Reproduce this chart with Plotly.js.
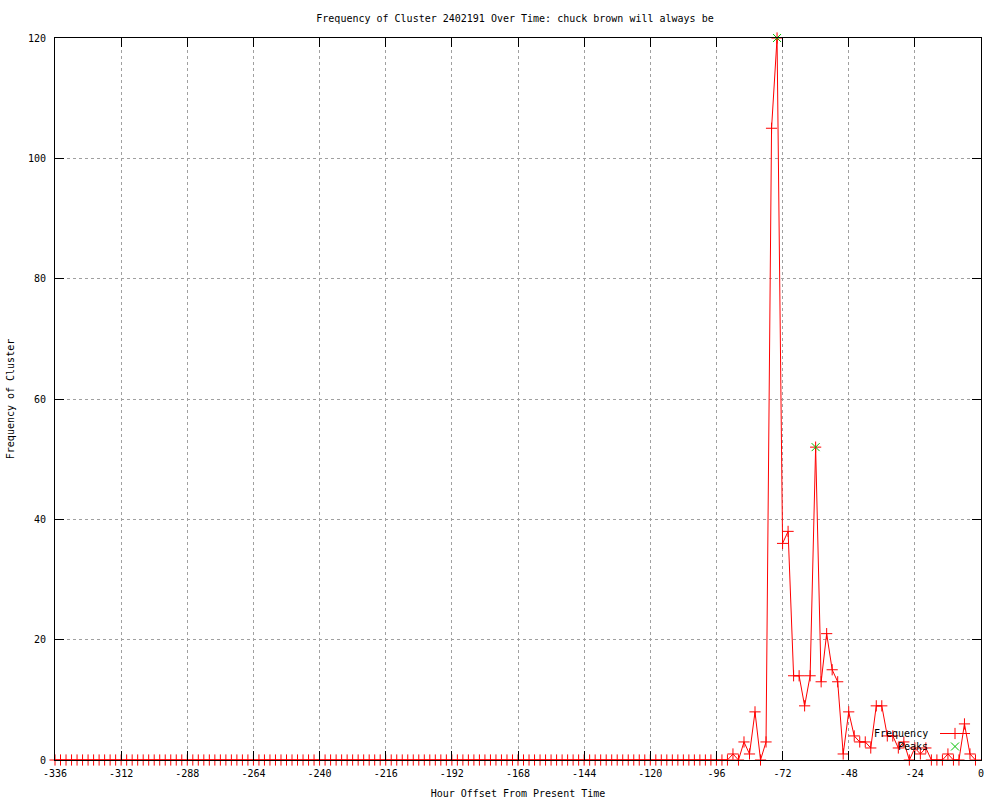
<!DOCTYPE html>
<html>
<head>
<meta charset="utf-8">
<script src="https://cdn.plot.ly/plotly-3.0.1.min.js"></script>
<style>html,body{margin:0;padding:0;background:#fff;}#chart{width:1000px;height:800px;}</style>
</head>
<body>
<div id="chart"></div>
<script>
// Hour offsets (every 2 hours)
const hours = [
-336,-334,-332,-330,-328,-326,-324,-322,-320,-318,-316,-314,-312,-310,-308,-306,-304,-302,-300,-298,
-296,-294,-292,-290,-288,-286,-284,-282,-280,-278,-276,-274,-272,-270,-268,-266,-264,-262,-260,-258,
-256,-254,-252,-250,-248,-246,-244,-242,-240,-238,-236,-234,-232,-230,-228,-226,-224,-222,-220,-218,
-216,-214,-212,-210,-208,-206,-204,-202,-200,-198,-196,-194,-192,-190,-188,-186,-184,-182,-180,-178,
-176,-174,-172,-170,-168,-166,-164,-162,-160,-158,-156,-154,-152,-150,-148,-146,-144,-142,-140,-138,
-136,-134,-132,-130,-128,-126,-124,-122,-120,-118,-116,-114,-112,-110,-108,-106,-104,-102,-100,-98,
-96,-94,-92,-90,-88,-86,-84,-82,-80,-78,-76,-74,-72,-70,-68,-66,-64,-62,-60,-58,
-56,-54,-52,-50,-48,-46,-44,-42,-40,-38,-36,-34,-32,-30,-28,-26,-24,-22,-20,-18,
-16,-14,-12,-10,-8,-6,-4,-2
];
// Frequency of cluster per hour offset
const frequency = [
0,0,0,0,0,0,0,0,0,0,0,0,0,0,0,0,0,0,0,0,
0,0,0,0,0,0,0,0,0,0,0,0,0,0,0,0,0,0,0,0,
0,0,0,0,0,0,0,0,0,0,0,0,0,0,0,0,0,0,0,0,
0,0,0,0,0,0,0,0,0,0,0,0,0,0,0,0,0,0,0,0,
0,0,0,0,0,0,0,0,0,0,0,0,0,0,0,0,0,0,0,0,
0,0,0,0,0,0,0,0,0,0,0,0,0,0,0,0,0,0,0,0,
0,0,0,1,0,3,1,8,0,3,105,120,36,38,14,14,9,14,52,13,
21,15,13,1,8,4,3,3,2,9,9,4,4,2,3,0,2,1,2,0,
0,0,1,0,0,6,1,0
];
// Peaks
const peakHours = [-74, -60];
const peakValues = [120, 52];

const xTickVals = [-336,-312,-288,-264,-240,-216,-192,-168,-144,-120,-96,-72,-48,-24,0];
const xTickText = ["-336","-312","-288","-264","-240","-216","-192","-168","-144","-120","-96","-72","-48","-24","0"];
const yTickVals = [0,20,40,60,80,100,120];
const yTickText = ["0","20","40","60","80","100","120"];

const FONT = "DejaVu Sans Mono, monospace";

const traces = [
  {
    x: hours, y: frequency, type: "scatter", mode: "lines+markers", name: " ",
    legend: "legend",
    line: {color: "#ff0000", width: 1},
    marker: {symbol: "cross-thin-open", size: 8, color: "#ff0000", line: {color: "#ff0000", width: 1}},
    cliponaxis: false
  },
  {
    x: peakHours, y: peakValues, type: "scatter", mode: "markers", name: " ",
    legend: "legend2",
    marker: {symbol: "x-thin-open", size: 8, color: "#00c000", line: {color: "#00c000", width: 1}},
    cliponaxis: false
  }
];

const axisCommon = {
  showline: true, linecolor: "#000", linewidth: 1, mirror: "ticks",
  ticks: "inside", ticklen: 9, tickwidth: 1, tickcolor: "#000",
  showgrid: true, gridcolor: "#a0a0a0", griddash: "dot", gridwidth: 1,
  zeroline: false, tickfont: {family: FONT, size: 10, color: "#000"},
  tickmode: "array"
};

const legendCommon = {
  xanchor: "left", yanchor: "top", bgcolor: "rgba(0,0,0,0)", borderwidth: 0,
  font: {family: FONT, size: 10}, tracegroupgap: 0, itemwidth: 30
};

const layout = {
  width: 1000, height: 800,
  margin: {l: 55, r: 19, t: 38, b: 40},
  paper_bgcolor: "#fff", plot_bgcolor: "#fff",
  font: {family: FONT, size: 10, color: "#000"},
  title: {text: "Frequency of Cluster 2402191 Over Time: chuck brown will always be",
          font: {family: FONT, size: 10, color: "#000"},
          x: (515-55)/926, xref: "paper", xanchor: "center", y: 1 - 18/800, yref: "container", yanchor: "middle"},
  xaxis: Object.assign({}, axisCommon, {
    range: [-336, 0], tickvals: xTickVals, ticktext: xTickText, ticklabelstandoff: 4,
    title: {text: "Hour Offset From Present Time", font: {family: FONT, size: 10, color: "#000"}, standoff: 11}
  }),
  yaxis: Object.assign({}, axisCommon, {
    range: [0, 120], tickvals: yTickVals, ticktext: yTickText, ticklabelstandoff: 6,
    title: {text: "Frequency of Cluster", font: {family: FONT, size: 10, color: "#000"}, standoff: 11}
  }),
  showlegend: true,
  legend: Object.assign({}, legendCommon, {x: (935-55)/926, y: (760-719)/722}),
  legend2: Object.assign({}, legendCommon, {x: (935-55)/926, y: (760-732)/722}),
  annotations: [
    {text: "Frequency", xref: "paper", yref: "paper", x: (930-55)/926, y: (760-733)/722,
     xanchor: "right", yanchor: "middle", showarrow: false, font: {family: FONT, size: 10, color: "#000"}},
    {text: "Peaks", xref: "paper", yref: "paper", x: (930-55)/926, y: (760-746)/722,
     xanchor: "right", yanchor: "middle", showarrow: false, font: {family: FONT, size: 10, color: "#000"}}
  ]
};

Plotly.newPlot("chart", traces, layout, {displayModeBar: false, staticPlot: true});
</script>
</body>
</html>
